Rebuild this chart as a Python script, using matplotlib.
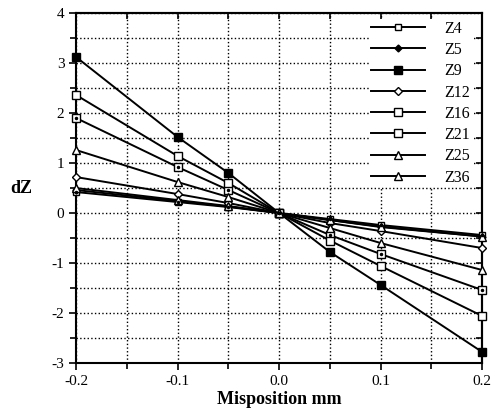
import numpy as np
import matplotlib
matplotlib.use("Agg")
import matplotlib.pyplot as plt
from matplotlib.ticker import MultipleLocator

plt.rcParams['font.family'] = ['Liberation Serif', 'DejaVu Serif']
plt.rcParams['axes.unicode_minus'] = False

# misposition (mm) and dZ for each Zernike term
x = [-0.2, -0.1, -0.05, 0.0, 0.05, 0.1, 0.2]
z4 = [0.42, 0.22, 0.12, 0.0, -0.12, -0.24, -0.44]
z5 = [0.46, 0.24, 0.13, 0.0, -0.14, -0.27, -0.47]
z9 = [3.12, 1.52, 0.80, 0.0, -0.78, -1.44, -2.78]
z12 = [0.72, 0.38, 0.20, 0.0, -0.20, -0.36, -0.70]
z16 = [1.90, 0.92, 0.46, 0.0, -0.44, -0.82, -1.54]
z21 = [2.36, 1.14, 0.60, 0.0, -0.55, -1.06, -2.06]
z25 = [1.26, 0.62, 0.32, 0.0, -0.30, -0.60, -1.14]
z36 = [0.50, 0.26, 0.14, 0.0, -0.14, -0.28, -0.47]

fig = plt.figure(figsize=(4.92, 4.12), dpi=100)
ax = fig.add_axes([0.155, 0.119, 0.825, 0.849])

lw = 1.4
kw = dict(color='k', lw=lw, clip_on=False, zorder=3)
ax.plot(x, z4, '-s', ms=5, mfc='white', mec='k', label='Z4', **kw)
ax.plot(x, z4, 'o', color='k', ms=1.5, clip_on=False, zorder=4)
ax.plot(x, z5, '-D', ms=3.5, mfc='k', label='Z5', **kw)
ax.plot(x, z9, '-s', ms=5.5, mfc='k', label='Z9', **kw)
ax.plot(x, z12, '-D', ms=4, mfc='white', label='Z12', **kw)
ax.plot(x, z16, '-s', ms=5.5, mfc='white', label='Z16', **kw)
ax.plot(x, z16, 'o', color='k', ms=1.5, clip_on=False, zorder=4)
ax.plot(x, z21, '-s', ms=6, mfc='white', label='Z21', **kw)
ax.plot(x, z25, '-^', ms=5.5, mfc='white', label='Z25', **kw)
ax.plot(x, z36, '-^', ms=5.5, mfc='white', label='Z36', **kw)

ax.set_xlim(-0.2, 0.2)
ax.set_ylim(-3, 4)
ax.set_xticks([-0.2, -0.1, 0.0, 0.1, 0.2])
ax.set_xticklabels(['-0.2', '-0.1', '0.0', '0.1', '0.2'])
ax.xaxis.set_minor_locator(MultipleLocator(0.05))
ax.yaxis.set_major_locator(MultipleLocator(1))
ax.yaxis.set_minor_locator(MultipleLocator(0.5))

ax.grid(True, which='both', color='k', linestyle=':', linewidth=1.0)
ax.tick_params(which='both', direction='out', width=1.2, labelsize=11)
ax.tick_params(which='major', length=5)
ax.tick_params(which='minor', length=4)
for s in ax.spines.values():
    s.set_linewidth(1.5)

# inward ticks on top and right
top = ax.secondary_xaxis('top')
top.set_xticks([-0.2, -0.1, 0.0, 0.1, 0.2])
top.xaxis.set_minor_locator(MultipleLocator(0.05))
top.tick_params(which='both', direction='in', length=4, width=1.2, labeltop=False)
right = ax.secondary_yaxis('right')
right.yaxis.set_major_locator(MultipleLocator(1))
right.yaxis.set_minor_locator(MultipleLocator(0.5))
right.tick_params(which='both', direction='in', length=4, width=1.2, labelright=False)
for sec in (top, right):
    for s in sec.spines.values():
        s.set_linewidth(1.5)

ax.set_xlabel('Misposition mm', fontsize=13, fontweight='bold', labelpad=2)
ax.set_ylabel('dZ', fontsize=13, fontweight='bold', rotation=0, labelpad=22, va='center')

leg = ax.legend(loc='upper right', bbox_to_anchor=(0.975, 0.983), frameon=True,
                framealpha=1, edgecolor='none', fancybox=False, fontsize=11.5,
                handlelength=3.4, handletextpad=1.2, labelspacing=0.33,
                borderpad=0.1, borderaxespad=0.0)
leg.set_zorder(5)

fig.savefig('out.png', dpi=100)
